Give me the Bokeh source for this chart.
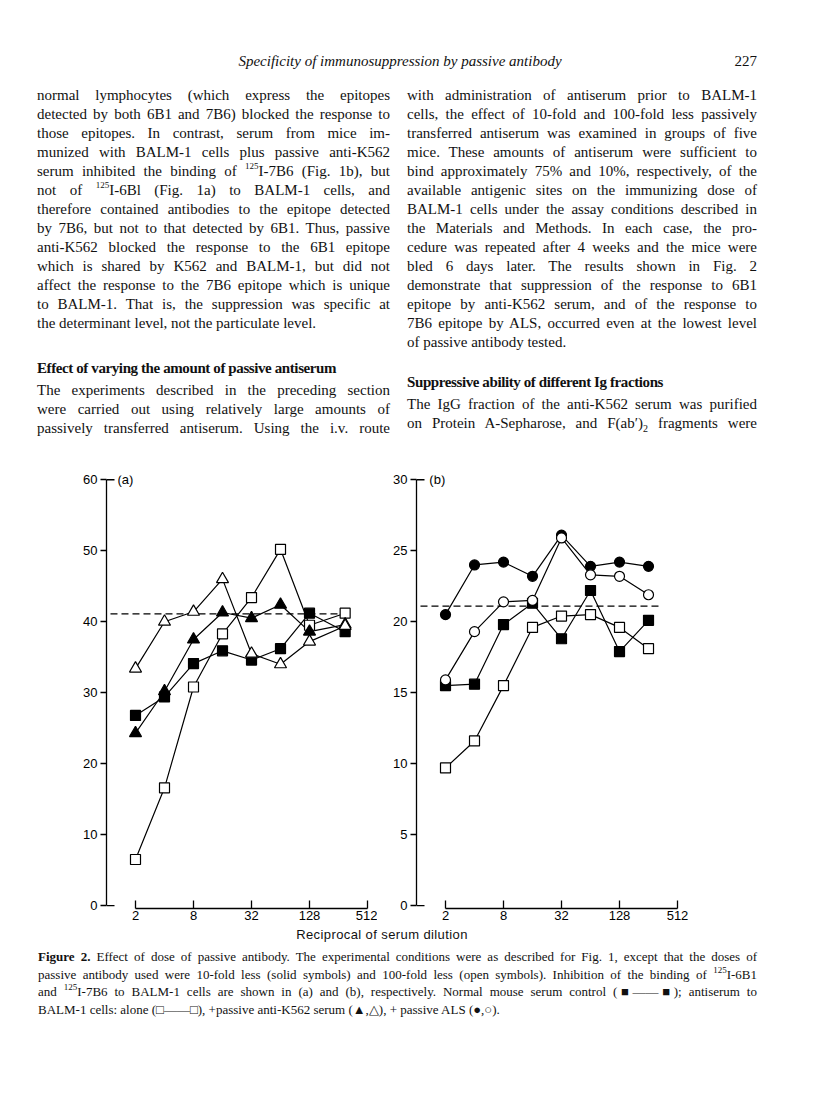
from bokeh.plotting import figure
from bokeh.models import Div, Range1d, FixedTicker, Label
from bokeh.layouts import column, row
from bokeh.embed import file_html
from bokeh.resources import INLINE

# ---------------- data ----------------
dil_a = [2, 4, 8, 16, 32, 64, 128, 300]
a_nms = [26.8, 29.4, 34.1, 35.9, 34.6, 36.2, 41.2, 38.6]        # filled square
a_alone = [6.5, 16.6, 30.8, 38.3, 43.4, 50.2, 39.5, 41.2]       # open square
a_k562_10 = [24.3, 30.2, 37.5, 41.3, 40.5, 42.4, 38.6, 39.6]    # filled triangle
a_k562_100 = [33.4, 40.0, 41.4, 46.0, 35.5, 34.0, 37.2, 39.4]   # open triangle
control_a = 41.1
dash_a = [1.1, 300]

dil_b = [2, 4, 8, 16, 32, 64, 128, 256]
b_nms = [15.5, 15.6, 19.8, 21.3, 18.8, 22.2, 17.9, 20.1]        # filled square
b_alone = [9.7, 11.6, 15.5, 19.6, 20.4, 20.5, 19.6, 18.1]       # open square
b_als_10 = [20.5, 24.0, 24.2, 23.2, 26.1, 23.9, 24.2, 23.9]     # filled circle
b_als_100 = [15.9, 19.3, 21.4, 21.5, 25.9, 23.3, 23.2, 21.9]    # open circle
control_b = 21.1
dash_b = [1.1, 330]

x_ticks = [2, 8, 32, 128, 512]
y_ticks_a = [0, 10, 20, 30, 40, 50, 60]
y_ticks_b = [0, 5, 10, 15, 20, 25, 30]

SANS = "Liberation Sans"
SERIF = "Liberation Serif"


def panel(x, series, control, dash_x, y_ticks, y_pad, tag, width, bl, br, tag_x):
    top = y_ticks[-1]
    p = figure(width=width, height=484, x_axis_type="log",
               x_range=Range1d(1, 650), y_range=Range1d(-y_pad * 0.67, top + y_pad),
               output_backend="svg", toolbar_location=None,
               min_border_left=bl, min_border_right=br, min_border_top=33, min_border_bottom=18)
    p.outline_line_color = None
    p.grid.visible = False
    p.background_fill_color = "white"
    p.border_fill_color = "white"

    xa = p.xaxis[0]
    xa.ticker = FixedTicker(ticks=x_ticks, minor_ticks=[])
    xa.bounds = (x_ticks[0], x_ticks[-1])
    xa.major_label_overrides = {t: str(t) for t in x_ticks}
    xa.major_tick_in = 8
    xa.major_tick_out = 0
    xa.minor_tick_in = 0
    xa.minor_tick_out = 0
    xa.axis_line_width = 1.3
    xa.major_tick_line_width = 1.3
    xa.major_label_standoff = 2
    xa.major_label_text_font = SANS
    xa.major_label_text_font_size = "13px"
    xa.major_label_text_color = "black"

    ya = p.yaxis[0]
    ya.ticker = FixedTicker(ticks=y_ticks, minor_ticks=[])
    ya.bounds = (y_ticks[0], y_ticks[-1])
    ya.major_tick_in = 0
    ya.major_tick_out = 6
    ya.minor_tick_in = 0
    ya.minor_tick_out = 0
    ya.axis_line_width = 1.3
    ya.major_tick_line_width = 1.3
    ya.major_label_standoff = 3
    ya.major_label_text_font = SANS
    ya.major_label_text_font_size = "13px"
    ya.major_label_text_color = "black"

    # end caps of y axis (pointing inward)
    p.ray(x=[1, 1], y=[y_ticks[0], y_ticks[-1]], length=8, length_units="screen",
          angle=0, line_color="black", line_width=1.3)

    # control level
    p.line(dash_x, [control, control], line_color="black", line_width=1.4, line_dash="7 4")

    for ys, marker, fill, size in series:
        p.line(x, ys, line_color="black", line_width=1.2)
    for ys, marker, fill, size in series:
        p.scatter(x, ys, marker=marker, size=size, fill_color=fill,
                  line_color="black", line_width=1.2)

    p.add_layout(Label(x=tag_x, y=y_ticks[-1], text=tag, text_font=SANS,
                       text_font_size="13px", text_baseline="middle", text_color="black"))
    return p


fa = panel(dil_a, [
    (a_nms, "square", "black", 10),
    (a_alone, "square", "white", 10),
    (a_k562_10, "triangle", "black", 12),
    (a_k562_100, "triangle", "white", 12),
], control_a, dash_a, y_ticks_a, 0.6, "(a)", 377, 106, 0, 1.3)

fb = panel(dil_b, [
    (b_nms, "square", "black", 10),
    (b_alone, "square", "white", 10),
    (b_als_10, "circle", "black", 10),
    (b_als_100, "circle", "white", 10),
], control_b, dash_b, y_ticks_b, 0.3, "(b)", 330, 39, 20, 1.36)

# ---------------- page text ----------------
SUP = '<sup style="font-size:9px;vertical-align:top;line-height:0;position:relative;top:4px">125</sup>'


def ln(text, left, top, width, size, lh, justify=True, extra=""):
    align = "text-align:justify;text-align-last:justify;" if justify else "text-align:left;"
    return (f'<div style="position:absolute;left:{left}px;top:{top}px;width:{width}px;'
            f'height:{lh}px;line-height:{lh}px;font-size:{size}px;white-space:nowrap;'
            f'font-family:\'{SERIF}\';color:#111;{align}{extra}">{text}</div>')


left_lines = [
    "normal lymphocytes (which express the epitopes",
    "detected by both 6B1 and 7B6) blocked the response to",
    "those epitopes. In contrast, serum from mice im-",
    "munized with BALM-1 cells plus passive anti-K562",
    f"serum inhibited the binding of {SUP}I-7B6 (Fig. 1b), but",
    f"not of {SUP}I-6Bl (Fig. 1a) to BALM-1 cells, and",
    "therefore contained antibodies to the epitope detected",
    "by 7B6, but not to that detected by 6B1. Thus, passive",
    "anti-K562 blocked the response to the 6B1 epitope",
    "which is shared by K562 and BALM-1, but did not",
    "affect the response to the 7B6 epitope which is unique",
    "to BALM-1. That is, the suppression was specific at",
    "the determinant level, not the particulate level.",
]
left_lines2 = [
    "The experiments described in the preceding section",
    "were carried out using relatively large amounts of",
    "passively transferred antiserum. Using the i.v. route",
]
right_lines = [
    "with administration of antiserum prior to BALM-1",
    "cells, the effect of 10-fold and 100-fold less passively",
    "transferred antiserum was examined in groups of five",
    "mice. These amounts of antiserum were sufficient to",
    "bind approximately 75% and 10%, respectively, of the",
    "available antigenic sites on the immunizing dose of",
    "BALM-1 cells under the assay conditions described in",
    "the Materials and Methods. In each case, the pro-",
    "cedure was repeated after 4 weeks and the mice were",
    "bled 6 days later. The results shown in Fig. 2",
    "demonstrate that suppression of the response to 6B1",
    "epitope by anti-K562 serum, and of the response to",
    "7B6 epitope by ALS, occurred even at the lowest level",
    "of passive antibody tested.",
]
right_lines2 = [
    "The IgG fraction of the anti-K562 serum was purified",
    "on Protein A-Sepharose, and F(ab&#8242;)<sub style=\"font-size:10px;line-height:0\">2</sub> fragments were",
]

BS, LH = 15, 19
parts = []
parts.append(ln("Specificity of immunosuppression by passive antibody", 0, 52, 800, BS, LH,
                justify=False, extra="text-align:center;font-style:italic;"))
parts.append(ln("227", 717, 52, 40, BS, LH, justify=False, extra="text-align:right;"))
for i, t in enumerate(left_lines):
    parts.append(ln(t, 37, 85.5 + 19 * i, 353, BS, LH, justify=(i < len(left_lines) - 1)))
parts.append(ln("Effect of varying the amount of passive antiserum", 37, 358.5, 353, BS, LH,
                justify=False, extra="font-weight:bold;letter-spacing:-0.4px;"))
for i, t in enumerate(left_lines2):
    parts.append(ln(t, 37, 380.5 + 19 * i, 353, BS, LH))
for i, t in enumerate(right_lines):
    parts.append(ln(t, 407, 85.5 + 19 * i, 350, BS, LH, justify=(i < len(right_lines) - 1)))
parts.append(ln("Suppressive ability of different Ig fractions", 407, 372.5, 350, BS, LH,
                justify=False, extra="font-weight:bold;letter-spacing:-0.4px;"))
for i, t in enumerate(right_lines2):
    parts.append(ln(t, 407, 394.5 + 19 * i, 350, BS, LH))

top_div = Div(text='<div style="position:relative;width:800px;height:442px;">' + "".join(parts) + "</div>",
              width=800, height=442, margin=(0, 0, 0, 0))

cap_lines = [
    "<b>Figure 2.</b> Effect of dose of passive antibody. The experimental conditions were as described for Fig. 1, except that the doses of",
    f"passive antibody used were 10-fold less (solid symbols) and 100-fold less (open symbols). Inhibition of the binding of {SUP}I-6B1",
    f"and {SUP}I-7B6 to BALM-1 cells are shown in (a) and (b), respectively. Normal mouse serum control (&#9632;&#8212;&#8212;&#9632;); antiserum to",
    "BALM-1 cells: alone (&#9633;&#8212;&#8212;&#9633;), +passive anti-K562 serum (&#9650;,&#9651;), + passive ALS (&#9679;,&#9675;).",
]
cparts = []
cparts.append(f'<div style="position:absolute;left:282px;top:1px;width:200px;height:16px;line-height:16px;'
              f'font-size:13px;font-family:\'{SANS}\';letter-spacing:0.4px;text-align:center;white-space:nowrap;color:#111;">'
              'Reciprocal of serum dilution</div>')
for i, t in enumerate(cap_lines):
    cparts.append(ln(t, 38, 22.25 + 17.5 * i, 719, 13, 17.5, justify=(i < len(cap_lines) - 1)))

cap_div = Div(text='<div style="position:relative;width:800px;height:160px;">' + "".join(cparts) + "</div>",
              width=800, height=160, margin=(0, 0, 0, 0))

fa.margin = (0, 0, 0, 0)
fb.margin = (0, 0, 0, 0)
charts = row(fa, fb, spacing=0, margin=(0, 0, 0, 0))
page = column(top_div, charts, cap_div, spacing=0, margin=(0, 0, 0, 0))

open("out.html", "w").write(file_html(page, INLINE))
